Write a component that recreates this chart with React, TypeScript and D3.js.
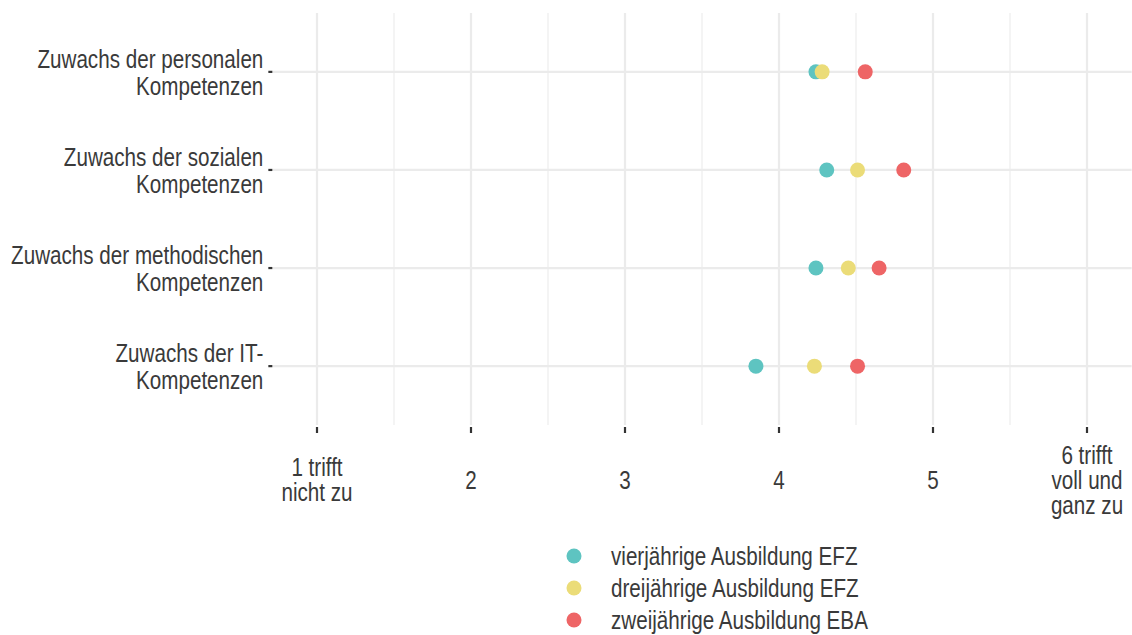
import React from "react";
import * as d3 from "d3";

const categories = [
  "Zuwachs der personalen\nKompetenzen",
  "Zuwachs der sozialen\nKompetenzen",
  "Zuwachs der methodischen\nKompetenzen",
  "Zuwachs der IT-\nKompetenzen",
];
const seriesNames = [
  "vierjährige Ausbildung EFZ",
  "dreijährige Ausbildung EFZ",
  "zweijährige Ausbildung EBA",
];
const seriesColors = ["#5EC4C1", "#EBDC78", "#EE6566"];
const vierjaehrig = [4.24, 4.31, 4.24, 3.85];
const dreijaehrig = [4.28, 4.51, 4.45, 4.23];
const zweijaehrig = [4.56, 4.81, 4.65, 4.51];
const seriesValues = [vierjaehrig, dreijaehrig, zweijaehrig];
const xTicks = [1, 2, 3, 4, 5, 6];
const xTickLabels = ["1 trifft\nnicht zu", "2", "3", "4", "5", "6 trifft\nvoll und\nganz zu"];
const xMinor = [1.5, 2.5, 3.5, 4.5, 5.5];

const W = 1132;
const H = 635;
const FONT = "'Liberation Sans', Arial, sans-serif";
const FS = 25;
const SX = 0.826;
const TEXT = "#3a3a3a";
const GRID = "#ebebeb";

function NText({
  x,
  y,
  lines,
  lh,
  anchor,
}: {
  x: number;
  y: number;
  lines: string[];
  lh: number;
  anchor: "start" | "middle" | "end";
}) {
  const y0 = y - ((lines.length - 1) * lh) / 2;
  return (
    <g transform={`translate(${x},${y0}) scale(${SX},1)`}>
      <text textAnchor={anchor} fontSize={FS} fill={TEXT} fontFamily={FONT}>
        {lines.map((l, i) => (
          <tspan key={i} x={0} y={i * lh} dy="0.35em">
            {l}
          </tspan>
        ))}
      </text>
    </g>
  );
}

export default function App() {
  const x = d3.scaleLinear().domain([1, 6]).range([317, 1087]);
  const left = x(0.71);
  const right = x(6.29);
  const top = 13;
  const bottom = 425;
  const y = d3.scalePoint<string>().domain(categories).range([top, bottom]).padding(0.6);

  return (
    <svg width={W} height={H} style={{ position: "absolute", left: 0, top: 0 }} fontFamily={FONT}>
      <rect x={0} y={0} width={W} height={H} fill="#ffffff" />
      {xMinor.filter((v) => x(v) > left && x(v) < right).map((v) => (
        <line key={"mn" + v} x1={x(v)} x2={x(v)} y1={top} y2={bottom} stroke={GRID} strokeWidth={1.1} />
      ))}
      {xTicks.map((v) => (
        <line key={"mj" + v} x1={x(v)} x2={x(v)} y1={top} y2={bottom} stroke={GRID} strokeWidth={2.2} />
      ))}
      {categories.map((c) => (
        <line key={"h" + c} x1={left} x2={right} y1={y(c)} y2={y(c)} stroke={GRID} strokeWidth={2.2} />
      ))}
      {categories.map((c) => {
        const cy = y(c)!;
        return (
          <g key={"yl" + c}>
            <line x1={left - 4} x2={left} y1={cy} y2={cy} stroke="#333" strokeWidth={2.2} />
            <NText x={left - 9} y={cy + 1} lines={c.split("\n")} lh={27} anchor="end" />
          </g>
        );
      })}
      {xTicks.map((v, k) => (
        <g key={"xl" + v}>
          <line x1={x(v)} x2={x(v)} y1={bottom + 2} y2={bottom + 8} stroke="#333" strokeWidth={2.2} />
          <NText x={x(v)} y={480} lines={xTickLabels[k].split("\n")} lh={25} anchor="middle" />
        </g>
      ))}
      {seriesValues.map((vals, s) => (
        <g key={"s" + s}>
          {vals.map((v, i) => (
            <circle key={i} cx={x(v)} cy={y(categories[i])} r={7.5} fill={seriesColors[s]} />
          ))}
        </g>
      ))}
      {seriesNames.map((n, i) => {
        const ly = 556 + i * 32;
        return (
          <g key={"lg" + i}>
            <circle cx={574} cy={ly} r={7.5} fill={seriesColors[i]} />
            <NText x={611} y={ly} lines={[n]} lh={25} anchor="start" />
          </g>
        );
      })}
    </svg>
  );
}
